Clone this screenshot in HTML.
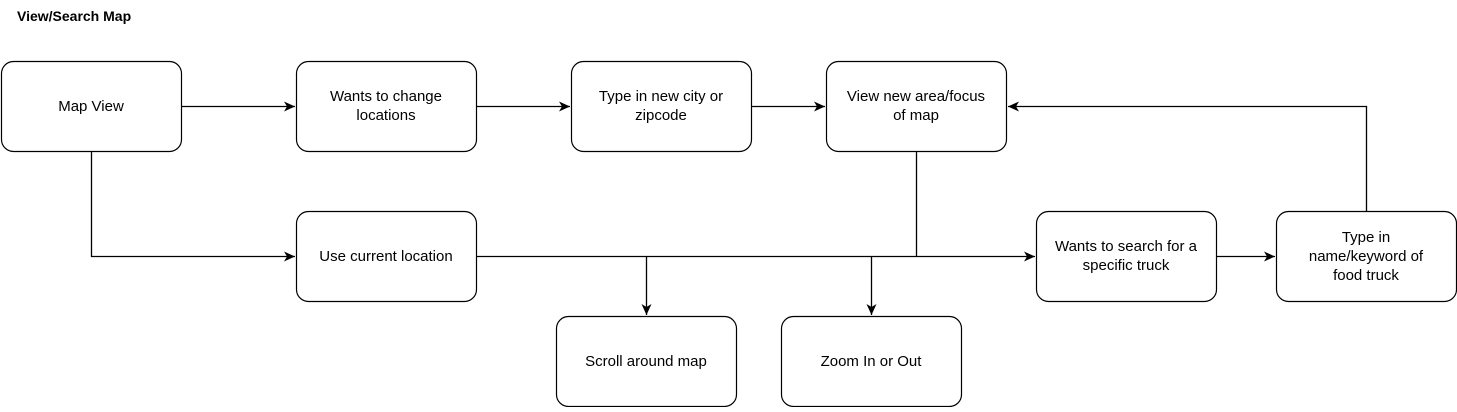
<!DOCTYPE html>
<html><head><meta charset="utf-8"><style>
html,body{margin:0;padding:0;background:#fff;}
body{width:1457px;height:407px;overflow:hidden;}
</style></head><body>
<svg width="1457" height="407" xmlns="http://www.w3.org/2000/svg" font-family="Liberation Sans, Arial, sans-serif">
<defs><marker id="a" markerWidth="12" markerHeight="12" refX="11" refY="6" orient="auto" markerUnits="userSpaceOnUse"><path d="M0,1 L11,6 L0,11 L3,6 z" fill="#000"/></marker></defs>
<text x="17" y="21" font-size="14" font-weight="bold">View/Search Map</text>
<g fill="#fff" stroke="#000" stroke-width="1.2">
<rect x="1.5" y="61.5" width="180" height="90" rx="12"/>
<rect x="296.5" y="61.5" width="180" height="90" rx="12"/>
<rect x="571.5" y="61.5" width="180" height="90" rx="12"/>
<rect x="826.5" y="61.5" width="180" height="90" rx="12"/>
<rect x="296.5" y="211.5" width="180" height="90" rx="12"/>
<rect x="1036.5" y="211.5" width="180" height="90" rx="12"/>
<rect x="1276.5" y="211.5" width="180" height="90" rx="12"/>
<rect x="556.5" y="316.5" width="180" height="90" rx="12"/>
<rect x="781.5" y="316.5" width="180" height="90" rx="12"/>
</g>
<g fill="none" stroke="#000" stroke-width="1.3">
<path d="M181.5,106.5 H295" marker-end="url(#a)"/>
<path d="M476.5,106.5 H570" marker-end="url(#a)"/>
<path d="M751.5,106.5 H825" marker-end="url(#a)"/>
<path d="M91.5,151.5 V256.5 H295" marker-end="url(#a)"/>
<path d="M476.5,256.5 H1035" marker-end="url(#a)"/>
<path d="M916.5,151.5 V256.5"/>
<path d="M646.5,256.5 V315" marker-end="url(#a)"/>
<path d="M871.5,256.5 V315" marker-end="url(#a)"/>
<path d="M1216.5,256.5 H1275" marker-end="url(#a)"/>
<path d="M1366.5,211.5 V106.5 H1008" marker-end="url(#a)"/>
</g>
<g font-size="15" text-anchor="middle">
<text x="91" y="111">Map View</text>
<text x="386" y="101">Wants to change</text><text x="386" y="120">locations</text>
<text x="661" y="101">Type in new city or</text><text x="661" y="120">zipcode</text>
<text x="916" y="101">View new area/focus</text><text x="916" y="120">of map</text>
<text x="386" y="261">Use current location</text>
<text x="1126" y="251">Wants to search for a</text><text x="1126" y="270">specific truck</text>
<text x="1366" y="242">Type in</text><text x="1366" y="261">name/keyword of</text><text x="1366" y="280">food truck</text>
<text x="646" y="366">Scroll around map</text>
<text x="871" y="366">Zoom In or Out</text>
</g>
</svg>
</body></html>
